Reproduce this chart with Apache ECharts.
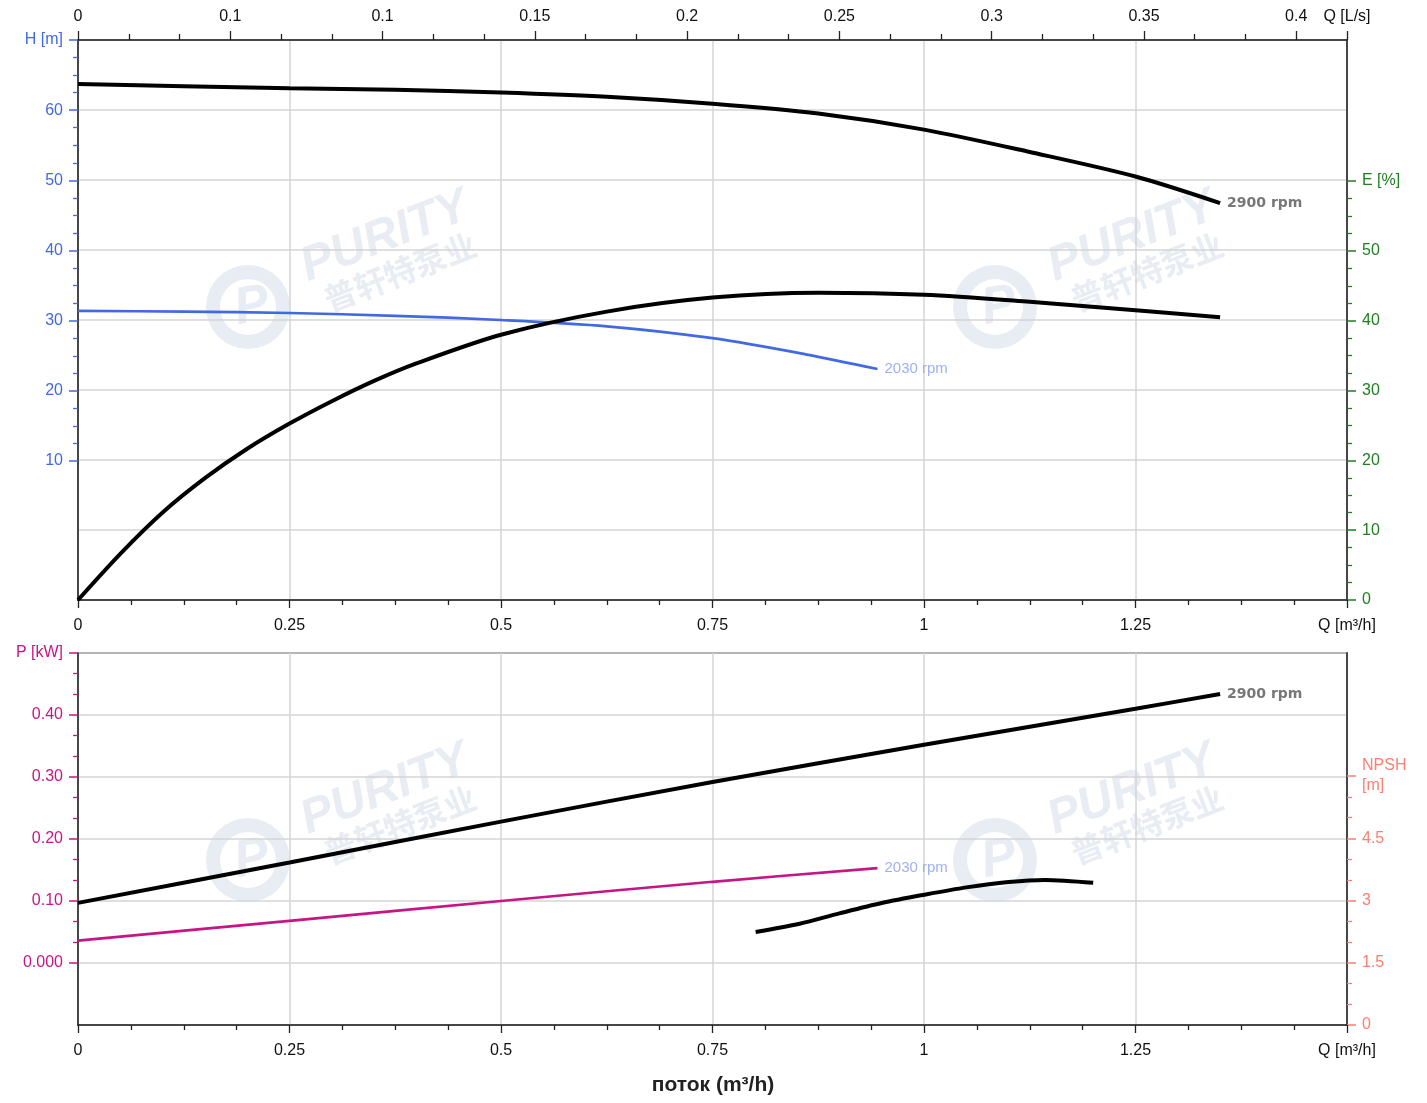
<!DOCTYPE html>
<html><head><meta charset="utf-8">
<script src="https://cdn.jsdelivr.net/npm/echarts@6/dist/echarts.min.js"></script>
<style>html,body{margin:0;padding:0;background:#fff}#c{width:1427px;height:1103px}</style>
</head><body><div id="c"></div>
<script>
// ---- data (Q in m³/h) ----
const Q_H2900 = [0, 0.125, 0.25, 0.375, 0.5, 0.625, 0.75, 0.875, 1.0, 1.125, 1.25, 1.35];
const H_2900  = [63.7, 63.4, 63.1, 62.9, 62.5, 61.9, 60.9, 59.5, 57.2, 54.0, 50.5, 46.7];
const Q_E2900 = [0, 0.05, 0.1, 0.15, 0.2, 0.25, 0.3, 0.35, 0.4, 0.5, 0.625, 0.75, 0.875, 1.0, 1.125, 1.25, 1.35];
const E_2900  = [0, 6.6, 12.5, 17.4, 21.6, 25.2, 28.4, 31.3, 33.8, 37.9, 41.2, 43.2, 43.9, 43.6, 42.6, 41.4, 40.4];
const Q_H2030 = [0, 0.125, 0.25, 0.375, 0.5, 0.625, 0.75, 0.86, 0.945];
const H_2030  = [31.3, 31.2, 31.0, 30.6, 30.0, 29.1, 27.4, 25.1, 23.0];
const Q_P2900 = [0, 0.25, 0.5, 0.75, 1.0, 1.25, 1.35];
const P_2900  = [0.097, 0.162, 0.228, 0.292, 0.352, 0.410, 0.434];
const Q_P2030 = [0, 0.25, 0.5, 0.75, 0.945];
const P_2030  = [0.036, 0.068, 0.100, 0.131, 0.153];
const Q_NPSH  = [0.801, 0.853, 0.9, 0.95, 1.0, 1.05, 1.1, 1.143, 1.2];
const NPSH    = [2.25, 2.45, 2.7, 2.95, 3.15, 3.33, 3.46, 3.51, 3.44];

const X_TICK_LABELS   = ['0', '0.25', '0.5', '0.75', '1', '1.25', 'Q [m³/h]'];
const TOP_TICK_LABELS = ['0', '0.1', '0.1', '0.15', '0.2', '0.25', '0.3', '0.35', '0.4'];
const H_TICK_LABELS   = ['10', '20', '30', '40', '50', '60', 'H [m]'];
const E_TICK_LABELS   = ['0', '10', '20', '30', '40', '50', 'E [%]'];
const P_TICK_LABELS   = ['0.000', '0.10', '0.20', '0.30', '0.40', 'P [kW]'];
const NPSH_TICK_LABELS= ['0', '1.5', '3', '4.5', 'NPSH\n[m]'];
const SPEED_LABELS    = ['2900 rpm', '2030 rpm'];
const X_TITLE = 'поток (m³/h)';

const zip = (a, b) => a.map((v, i) => [v, b[i]]);
const FONT = "'Liberation Sans', Arial, sans-serif";
const AX = '#222';
const GRIDC = '#d5d5d5';
const BLUE = '#4169E1', GREEN = '#1f7f1f', MAG = '#c71585', SAL = '#fa8072';
const LS_MAX = 1.5 / 3.6;

function idx(v, step) { return Math.round(v / step); }

function bottomX(grid) {
  return {
    gridIndex: grid, type: 'value', position: 'bottom', min: 0, max: 1.5, interval: 0.25,
    axisLine: { show: true, onZero: false, lineStyle: { color: AX, width: 1.5 } },
    axisTick: { show: true, length: 8, lineStyle: { color: AX, width: 1.3 } },
    minorTick: { show: true, splitNumber: 4, length: 5, lineStyle: { color: AX, width: 1.3 } },
    axisLabel: { margin: 18, fontSize: 16, color: '#111', fontFamily: FONT, showMaxLabel: true, showMinLabel: true,
      formatter: v => X_TICK_LABELS[idx(v, 0.25)] },
    splitLine: { show: true, lineStyle: { color: GRIDC, width: 1.5 } }
  };
}
function hiddenX(grid) { return { gridIndex: grid, type: 'value', show: false, min: 0, max: 1 }; }

function dispY(grid, pos, min, max, interval, minorSplit, color, labels) {
  return {
    gridIndex: grid, type: 'value', position: pos, min, max, interval,
    axisLine: { show: false, onZero: false },
    axisTick: { show: true, length: 9, lineStyle: { color, width: 1.5 } },
    minorTick: { show: true, splitNumber: minorSplit, length: 5, lineStyle: { color, width: 1.3 } },
    axisLabel: { margin: 15, fontSize: 16, color, fontFamily: FONT, showMaxLabel: true, showMinLabel: true,
      lineHeight: 20, formatter: v => labels[idx(v - min, interval)] },
    splitLine: { show: false }
  };
}
function dataY(grid, pos, min, max, interval, split) {
  return {
    gridIndex: grid, type: 'value', position: pos, min, max, interval,
    axisLine: { show: true, onZero: false, lineStyle: { color: AX, width: 1.5 } },
    axisTick: { show: false }, axisLabel: { show: false },
    splitLine: { show: split, lineStyle: { color: GRIDC, width: 1.5 } }
  };
}

const WM = '#e8ecf3';
function watermark(dx, dy) {
  return [
    { type: 'ring', z: 0, shape: { cx: 248 + dx, cy: 307 + dy, r: 42, r0: 28 }, style: { fill: WM } },
    { type: 'text', z: 0, x: 252 + dx, y: 307 + dy, rotation: 0.2,
      style: { text: 'P', font: "italic bold 52px " + FONT, fill: WM, align: 'center', verticalAlign: 'middle' } },
    { type: 'text', z: 0, x: 385 + dx, y: 237 + dy, rotation: 0.37,
      style: { text: 'PURITY', font: "italic bold 48px " + FONT, fill: WM, align: 'center', verticalAlign: 'middle' } },
    { type: 'text', z: 0, x: 400 + dx, y: 272 + dy, rotation: 0.37,
      style: { text: '普轩特泵业', font: "bold 32px 'Noto Sans CJK SC'", fill: WM, align: 'center', verticalAlign: 'middle' } }
  ];
}

const RPM_BOLD = { show: true, color: '#777', fontWeight: 'bold', fontSize: 14, distance: 7, fontFamily: "'DejaVu Sans', sans-serif" };
const RPM_LIGHT = { show: true, color: '#9fb0f0', fontSize: 15, distance: 7, fontFamily: FONT };
const SM = 0.3;
const BW = 4;

const chart = echarts.init(document.getElementById('c'), null, { renderer: 'canvas' });
const option = {
  animation: false,
  backgroundColor: '#fff',
  textStyle: { fontFamily: FONT },
  grid: [
    { left: 78, right: 80, top: 40, height: 560, show: true, borderColor: AX, borderWidth: 1.5, backgroundColor: 'transparent' },
    { left: 78, right: 80, top: 40, height: 421 },
    { left: 78, right: 80, top: 181, height: 419 },
    { left: 78, right: 80, top: 653, height: 372, show: true, borderColor: AX, borderWidth: 1.5, backgroundColor: 'transparent' },
    { left: 78, right: 80, top: 653, height: 310 },
    { left: 78, right: 80, top: 776, height: 249 }
  ],
  xAxis: [
    bottomX(0),
    { gridIndex: 0, type: 'value', position: 'top', min: 0, max: LS_MAX, interval: 0.05,
      axisLine: { show: true, onZero: false, lineStyle: { color: AX, width: 1.5 } },
      axisTick: { show: true, length: 9, lineStyle: { color: AX, width: 1.3 } },
      minorTick: { show: true, splitNumber: 3, length: 6, lineStyle: { color: AX, width: 1.3 } },
      axisLabel: { margin: 15, fontSize: 16, color: '#111', fontFamily: FONT, showMaxLabel: true, showMinLabel: true,
        formatter: v => { const i = idx(v, 0.05); return Math.abs(v - i * 0.05) > 1e-6 ? 'Q [L/s]' : TOP_TICK_LABELS[i]; } },
      splitLine: { show: false } },
    hiddenX(1), hiddenX(2),
    bottomX(3),
    hiddenX(4), hiddenX(5)
  ],
  yAxis: [
    dataY(0, 'left', -10, 70, 10, true),
    dataY(0, 'right', 0, 80, 10, false),
    dispY(1, 'left', 10, 70, 10, 4, BLUE, H_TICK_LABELS),
    dispY(2, 'right', 0, 60, 10, 4, GREEN, E_TICK_LABELS),
    dataY(3, 'left', -0.1, 0.5, 0.1, true),
    dataY(3, 'right', 0, 9, 1.5, false),
    dispY(4, 'left', 0, 0.5, 0.1, 3, MAG, P_TICK_LABELS),
    dispY(5, 'right', 0, 6, 1.5, 3, SAL, NPSH_TICK_LABELS)
  ],
  series: [
    { name: 'H2900', type: 'line', xAxisIndex: 0, yAxisIndex: 0, data: zip(Q_H2900, H_2900), showSymbol: false,
      smooth: SM, z: 5,
      lineStyle: { color: '#000', width: BW }, itemStyle: { color: '#000' },
      endLabel: Object.assign({ formatter: SPEED_LABELS[0] }, RPM_BOLD) },
    { name: 'E2900', type: 'line', xAxisIndex: 0, yAxisIndex: 1, data: zip(Q_E2900, E_2900), showSymbol: false,
      smooth: SM, z: 5,
      lineStyle: { color: '#000', width: BW }, itemStyle: { color: '#000' } },
    { name: 'H2030', type: 'line', xAxisIndex: 0, yAxisIndex: 0, data: zip(Q_H2030, H_2030), showSymbol: false,
      smooth: SM, z: 4,
      lineStyle: { color: BLUE, width: 2.7 }, itemStyle: { color: BLUE },
      endLabel: Object.assign({ formatter: SPEED_LABELS[1] }, RPM_LIGHT) },
    { name: 'P2900', type: 'line', xAxisIndex: 4, yAxisIndex: 4, data: zip(Q_P2900, P_2900), showSymbol: false,
      smooth: SM, z: 5,
      lineStyle: { color: '#000', width: BW }, itemStyle: { color: '#000' },
      endLabel: Object.assign({ formatter: SPEED_LABELS[0] }, RPM_BOLD) },
    { name: 'P2030', type: 'line', xAxisIndex: 4, yAxisIndex: 4, data: zip(Q_P2030, P_2030), showSymbol: false,
      smooth: SM, z: 4,
      lineStyle: { color: MAG, width: 2.7 }, itemStyle: { color: MAG },
      endLabel: Object.assign({ formatter: SPEED_LABELS[1] }, RPM_LIGHT) },
    { name: 'NPSH', type: 'line', xAxisIndex: 4, yAxisIndex: 5, data: zip(Q_NPSH, NPSH), showSymbol: false,
      smooth: SM, z: 5,
      lineStyle: { color: '#000', width: BW }, itemStyle: { color: '#000' } }
  ],
  graphic: [
    ...watermark(0, 0), ...watermark(747, 0), ...watermark(0, 553), ...watermark(747, 553),
    { type: 'text', x: 713, y: 1085, z: 10,
      style: { text: X_TITLE, font: "bold 21px " + FONT, fill: '#222', align: 'center', verticalAlign: 'middle' } }
  ]
};
chart.setOption(option);
</script></body></html>
